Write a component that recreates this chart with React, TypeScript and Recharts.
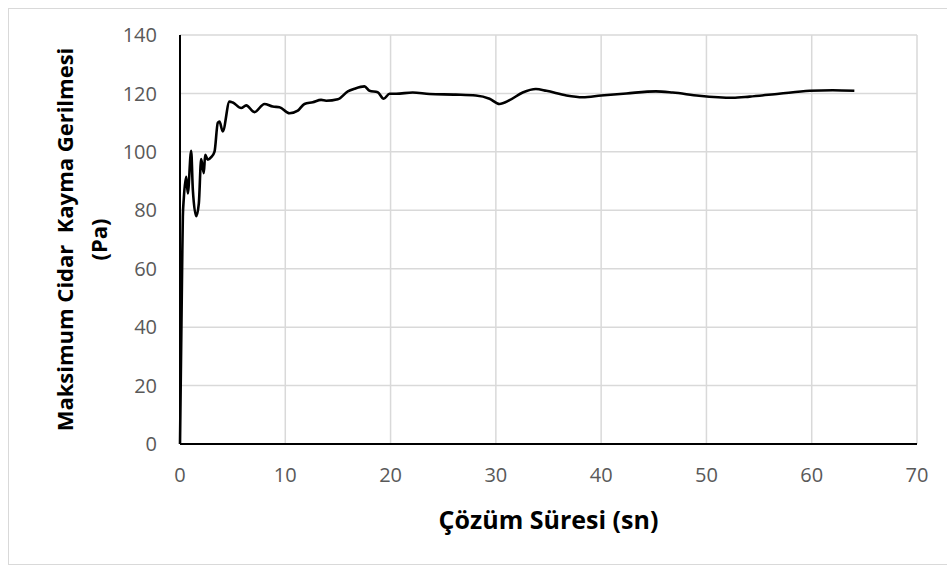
import { CartesianGrid, Line, LineChart, XAxis, YAxis } from 'recharts'

// solution time (s)
const times = [
  0, 0.2, 0.27, 0.36, 0.59, 0.74, 1.06, 1.22, 1.54, 1.79, 2.01, 2.26, 2.39, 2.64, 2.96, 3.28, 3.59,
  3.75, 4.06, 4.7, 5.01, 5.81, 6.29, 7.07, 8.02, 8.81, 9.45, 10.4, 11.19, 11.82, 12.61, 13.4,
  13.88, 14.99, 15.94, 16.57, 17.52, 18.0, 18.78, 19.35, 19.9, 20.53, 22.1, 23.7, 26.2, 28.1,
  29.4, 30.34, 31.3, 32.55, 33.8, 34.8, 36.7, 38.25, 40.0, 42.4, 45.2, 46.8, 49.3, 52.5, 54.1,
  56.9, 59.8, 62.0, 64.05,
]

// max wall shear stress (Pa)
const stress = [
  0, 60, 77.8, 84, 91.5, 85.8, 100.4, 87, 78, 82.4, 97.5, 92.7, 99, 97.3, 98.2, 100.1, 110,
  110.4, 107, 117.2, 116.9, 115, 115.9, 113.6, 116.4, 115.5, 115.3, 113.2, 114.1, 116.4, 117.0,
  117.8, 117.5, 118.0, 120.7, 121.6, 122.4, 120.9, 120.4, 118.2, 119.9, 119.9, 120.3, 119.8,
  119.6, 119.3, 118.2, 116.4, 117.7, 120.3, 121.5, 120.9, 119.3, 118.7, 119.3, 120.0, 120.7,
  120.3, 119.2, 118.5, 118.9, 119.9, 120.9, 121.1, 120.9,
]

const xTicks = [0, 10, 20, 30, 40, 50, 60, 70]
const yTicks = [0, 20, 40, 60, 80, 100, 120, 140]

const data = times.map((t, i) => ({ t, v: stress[i] }))

const font = '"Open Sans", sans-serif'
const tickStyle = { fill: '#595959', fontSize: 20, fontFamily: font }

function YTitle(props: any) {
  const vb = props.viewBox || {}
  const cy = vb.y + vb.height / 2
  return (
    <g fontFamily={font} fontWeight="bold" fontSize={22} fill="#000" textAnchor="middle">
      <text transform={`translate(73, ${cy}) rotate(-90)`}>Maksimum Cidar{'\u00a0 '}Kayma Gerilmesi</text>
      <text transform={`translate(107, ${cy}) rotate(-90)`}>(Pa)</text>
    </g>
  )
}

function XTitle(props: any) {
  const vb = props.viewBox || {}
  return (
    <text
      x={vb.x + vb.width / 2}
      y={529}
      textAnchor="middle"
      fontFamily={font}
      fontWeight="bold"
      fontSize={25}
      fill="#000"
    >
      Çözüm Süresi (sn)
    </text>
  )
}

export default function App() {
  return (
    <div style={{ position: 'absolute', left: 0, top: 0, width: 947, height: 567, background: '#fff' }}>
      <div
        style={{
          position: 'absolute',
          left: 8,
          top: 8,
          width: 939,
          height: 557,
          borderLeft: '1px solid #d9d9d9',
          borderTop: '1px solid #d9d9d9',
          borderBottom: '1px solid #d9d9d9',
          boxSizing: 'border-box',
        }}
      />
      <div style={{ position: 'absolute', left: 0, top: 0 }}>
        <LineChart width={947} height={567} data={data} margin={{ top: 35, right: 30, bottom: 93, left: 120 }}>
          <CartesianGrid stroke="#d9d9d9" strokeWidth={1.5} />
          <XAxis
            dataKey="t"
            type="number"
            domain={[0, 70]}
            ticks={xTicks}
            height={30}
            tickSize={0}
            tickMargin={24}
            tickLine={false}
            axisLine={{ stroke: '#000', strokeWidth: 2 }}
            tick={tickStyle}
            label={<XTitle />}
          />
          <YAxis
            type="number"
            domain={[0, 140]}
            ticks={yTicks}
            width={60}
            tickSize={0}
            tickMargin={23}
            tickLine={false}
            axisLine={{ stroke: '#000', strokeWidth: 2 }}
            tick={tickStyle}
            label={<YTitle />}
          />
          <Line
            dataKey="v"
            type="monotone"
            stroke="#000"
            strokeWidth={2.6}
            dot={false}
            isAnimationActive={false}
          />
        </LineChart>
      </div>
    </div>
  )
}
